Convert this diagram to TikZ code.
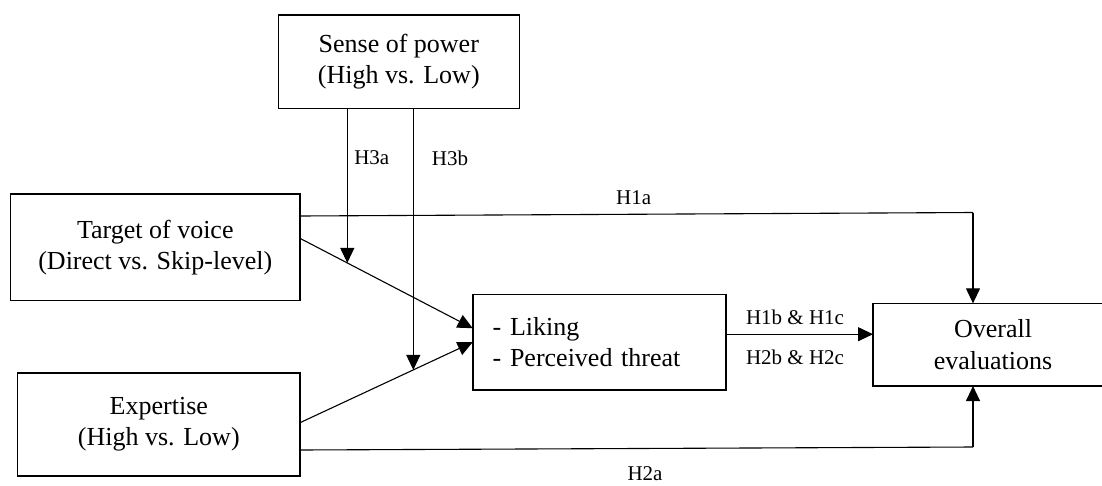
\documentclass[tikz,border=0pt]{standalone}
\usepackage{fontspec}
\setmainfont{Liberation Serif}
\usetikzlibrary{arrows.meta,calc}
\begin{document}
\begin{tikzpicture}[x=1pt,y=-1pt,
  box/.style={draw, line width=1.6pt, align=center, inner sep=0pt, outer sep=0pt,
    font=\fontsize{26}{31.3}\selectfont},
  conn/.style={line width=1.1pt},
  arr/.style={conn, -{Triangle[length=15pt,width=14pt]}},
  lbl/.style={inner sep=0pt, font=\fontsize{21}{25}\selectfont}]
\useasboundingbox (0,0) rectangle (1102,485);
\fill[white] (0,0) rectangle (1102,485);
% boxes
\node[box, minimum width=241pt, minimum height=93.3pt] (pw) at (398.8,61.7)
  {Sense of power\\(High vs. Low)};
\node[box, minimum width=289.3pt, minimum height=106.7pt] (tv) at (155.3,247.3)
  {Target of voice\\(Direct vs. Skip-level)};
\node[box, minimum width=282.4pt, minimum height=103pt] (ex) at (158.8,424.2)
  {Expertise\\(High vs. Low)};
\node[box, minimum width=253pt, minimum height=95.7pt, inner xsep=20pt,
  text width=213pt, align=left] (med) at (599.2,342.2)
  {- Liking\\- Perceived threat};
\node[box, minimum width=240pt, minimum height=82.7pt] (ov) at (993,344.7)
  {Overall\\evaluations};
% main paths to mediator
\coordinate (tvs) at ([yshift=9pt]tv.east);
\coordinate (tvm) at ([yshift=14pt]med.west);
\coordinate (exs) at ([yshift=1.5pt]ex.east);
\coordinate (exm) at ([yshift=0pt]med.west);
\draw[arr] (tvs) -- (tvm);
\draw[arr] (exs) -- (exm);
% moderation
\coordinate (ta) at ($(tvs)!0.274!(tvm)$);
\coordinate (tb) at ($(exs)!0.656!(exm)$);
\draw[arr] (pw.south -| ta) -- (ta);
\draw[arr] (pw.south -| tb) -- (tb);
% direct effects
\coordinate (h1s) at ([yshift=31.3pt]tv.east);
\coordinate (h1c) at (973,212.5);
\draw[conn] (h1s) -- (h1c);
\draw[arr] (h1c) -- (h1c |- ov.north);
\coordinate (h2s) at ([yshift=-25.8pt]ex.east);
\coordinate (h2c) at (973,447);
\draw[conn] (h2s) -- (h2c);
\draw[arr] (h2c) -- (h2c |- ov.south);
% mediator to outcome
\coordinate (ms) at ([yshift=8pt]med.east);
\draw[arr] (ms) -- (ms -| ov.west);
% labels
\node[lbl] (l3a) at (371.8,158) {H3a};
\node[lbl] (l3b) at (450,158) {H3b};
\node[lbl] (l1a) at (633.6,198) {H1a};
\node[lbl] (l2a) at (645,474) {H2a};
\node[lbl] (l1b) at (795,317.5) {H1b \& H1c};
\node[lbl] (l2b) at (795,357.5) {H2b \& H2c};
\end{tikzpicture}
\end{document}
